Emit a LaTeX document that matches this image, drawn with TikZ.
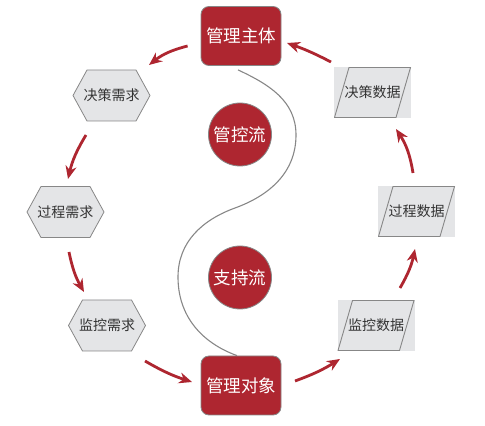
\documentclass[tikz,border=0pt]{standalone}
\usepackage{fontspec}
\newfontfamily\cjk{Noto Sans CJK SC}
\usetikzlibrary{arrows.meta}
\usetikzlibrary{calc}
\definecolor{vermelho}{RGB}{174,38,48}
\definecolor{cinza}{RGB}{228,229,231}
\definecolor{borda}{RGB}{135,135,135}

\begin{document}
\begin{tikzpicture}[x=1pt, y=1pt, >={Stealth[length=13pt,width=11pt]},
 main box/.style={fill=vermelho, draw=borda, line width=0.8pt, rounded corners=8pt,
   minimum width=80pt, minimum height=59pt, inner sep=0pt, text=white,
   font=\cjk\fontsize{17.5}{20}\selectfont},
 flow circle/.style={circle, fill=vermelho, draw=borda, line width=0.8pt,
   minimum size=63pt, inner sep=0pt, text=white, font=\cjk\fontsize{17.5}{20}\selectfont},
 hex line/.style={fill=cinza, draw=borda, line width=0.8pt},
 hex label/.style={text=black!80, font=\cjk\fontsize{14}{16}\selectfont},
 data box/.style={fill=cinza, minimum width=77pt, minimum height=51pt, inner sep=0pt,
   text=black!80, font=\cjk\fontsize{14}{16}\selectfont,
   path picture={\draw[borda, line width=0.9pt]
     ([shift={(0.5pt,0.5pt)}]path picture bounding box.south west) --
     ([shift={(15pt,-0.5pt)}]path picture bounding box.north west) --
     ([shift={(-0.5pt,-0.5pt)}]path picture bounding box.north east) --
     ([shift={(-15pt,0.5pt)}]path picture bounding box.south east) -- cycle;}},
 flow arrow/.style={->, draw=vermelho, line width=2.8pt, bend right=#1},
 flow arrow/.default=9]
    \useasboundingbox (0,0) rectangle (485,426);
    % sujeito e objeto
    \node[main box] (zhuti) at (241,390) {管理主体};
    \node[main box] (duixiang) at (241,40.5) {管理对象};
    % linha em S entre os dois
    \draw[borda, line width=1.1pt] ([xshift=-3pt,yshift=-4pt]zhuti.south)
        to[out=-25,in=90] (296,291) to[out=-90,in=20] (235,218)
        to[out=200,in=90] (178,149) to[out=-90,in=160] ([xshift=-4pt]duixiang.north);
    \node[flow circle] (guankong) at (240,291.5) {管控流};
    \node[flow circle] (zhichi) at (240,148.5) {支持流};
    % hexagonos: necessidades
    \foreach \n/\px/\py/\t in {jcxq/111.5/330.5/决策需求, gcxq/65.5/214/过程需求,
                              jkxq/107/100.5/监控需求}{
        \draw[hex line] (\px-38.5,\py) -- ++(14,25.5) -- ++(49,0) -- ++(14,-25.5)
            -- ++(-14,-25.5) -- ++(-49,0) -- cycle;
        \node[hex label] (\n) at (\px,\py) {\t};
    }
    % dados
    \node[data box] (jcsj) at (372.5,333.5) {决策数据};
    \node[data box] (gcsj) at (416.5,214.5) {过程数据};
    \node[data box] (jksj) at (376,100.5) {监控数据};
    % setas
    \draw[flow arrow=12] ($(zhuti.west)+(-13,-10)$) to ($(jcxq)+(37.5,30.5)$);
    \draw[flow arrow] ($(jcxq)+(-25.5,-39.5)$) to ($(gcxq)+(2.5,33)$);
    \draw[flow arrow] ($(gcxq)+(3.5,-40)$) to ($(jkxq)+(-23,33.5)$);
    \draw[flow arrow=6] ($(jkxq)+(38,-35.5)$) to ($(duixiang)+(-49,3.5)$);
    \draw[flow arrow=6] ($(duixiang)+(54,4.5)$) to ($(jksj)+(-36,-33.5)$);
    \draw[flow arrow] ($(jksj)+(24,37.5)$) to ($(gcsj)+(-1.5,-37.5)$);
    \draw[flow arrow=12] ($(gcsj)+(-3.5,38.5)$) to ($(jcsj)+(23.5,-36.5)$);
    \draw[flow arrow=4] ($(jcsj)+(-41.5,30.5)$) to ($(zhuti)+(46,-7)$);
\end{tikzpicture}
\end{document}
